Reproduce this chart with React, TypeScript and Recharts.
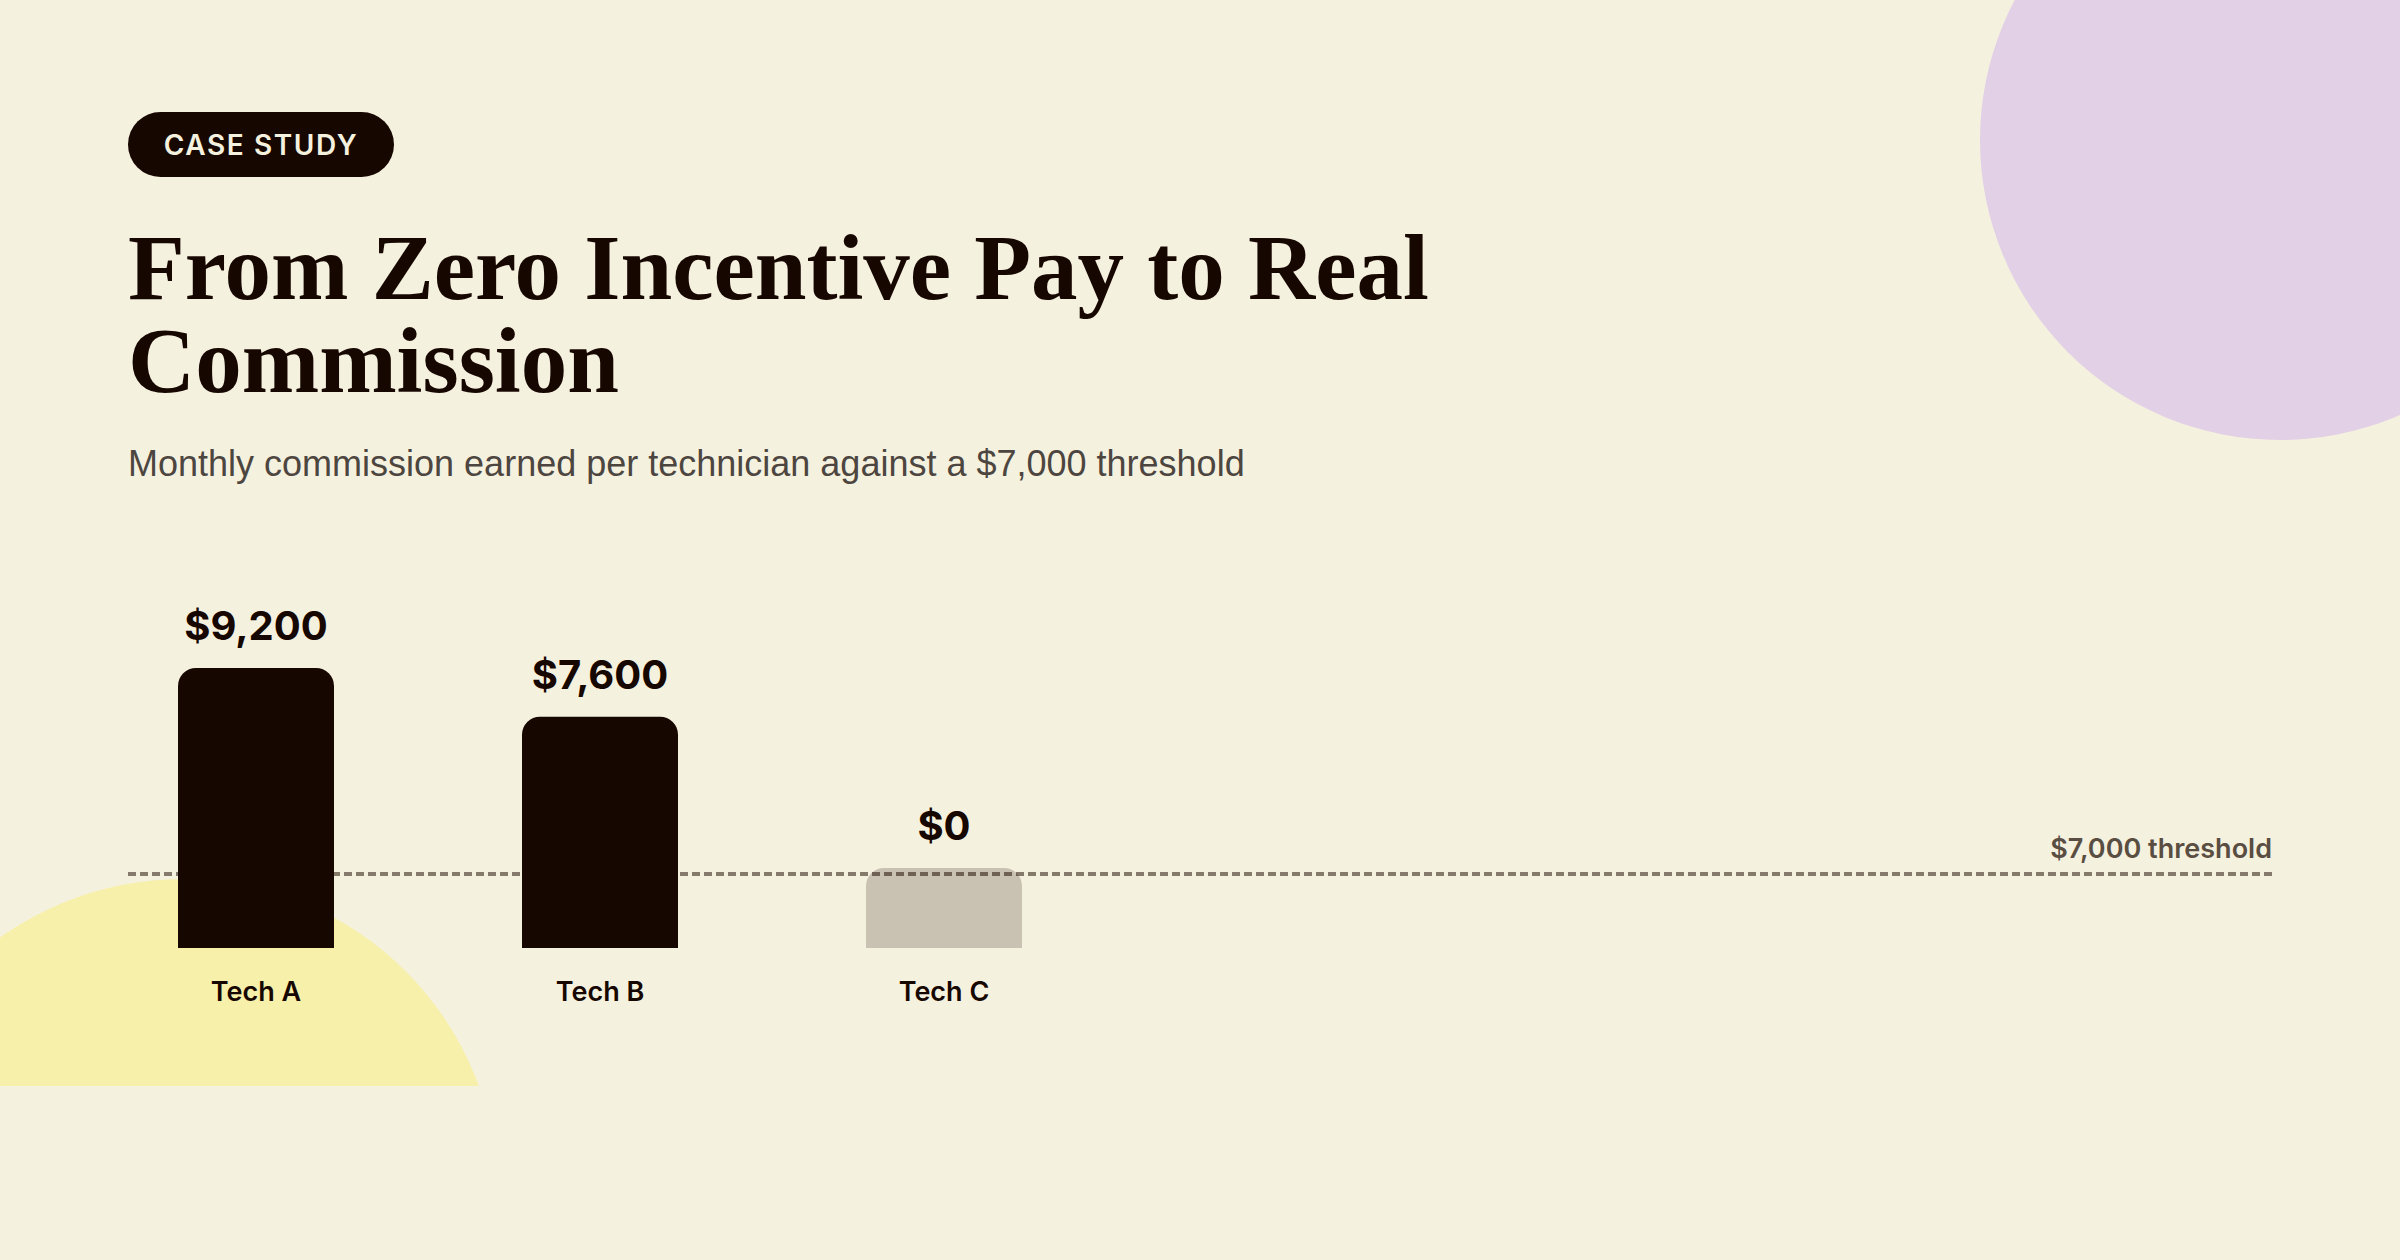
import { BarChart, Bar, XAxis, YAxis, ReferenceLine, LabelList, Cell } from "recharts";

const technicians = ["Tech A", "Tech B", "Tech C"];
const monthlyCommission = [9200, 7600, 0];
const threshold = 7000;

const data = technicians.map((name, i) => ({ name, commission: monthlyCommission[i] }));

const CREAM = "#f5f1df";
const INK = "#170701";
const DASH = "#857a6b";
const SANS = "Inter, 'Noto Sans', sans-serif";

// the threshold marker sits on its own hidden scale
const THRESHOLD_AXIS_MAX = 26500;

function formatMoney(v: number): string {
  return `$${v.toLocaleString("en-US")}`;
}

const TechTick = ({ x, y, payload }: { x: number; y: number; payload: { value: string } }) => (
  <text
    x={x}
    y={y + 53}
    textAnchor="middle"
    fill={INK}
    fontSize={27}
    fontWeight={600}
    fontFamily={SANS}
  >
    {payload.value}
  </text>
);

const ThresholdLabel = ({ viewBox }: { viewBox?: { x: number; y: number; width: number } }) => {
  if (!viewBox) return null;
  return (
    <text
      x={viewBox.x + viewBox.width}
      y={viewBox.y - 16}
      textAnchor="end"
      fill="#5a4d42"
      fontSize={27}
      fontWeight={600}
      fontFamily={SANS}
    >
      {formatMoney(threshold)} threshold
    </text>
  );
};

export default function App() {
  return (
    <div
      style={{
        position: "absolute",
        left: 0,
        top: 0,
        width: 2400,
        height: 1260,
        overflow: "hidden",
        background: CREAM,
      }}
    >
      {/* decorative blobs */}
      <div
        style={{
          position: "absolute",
          left: 1980,
          top: -160,
          width: 600,
          height: 600,
          borderRadius: "50%",
          background: "#e2d0e6",
        }}
      />
      <div style={{ position: "absolute", left: 0, top: 0, width: 2400, height: 1086, overflow: "hidden" }}>
        <div
          style={{
            position: "absolute",
            left: 183 - 315,
            top: 1194 - 315,
            width: 630,
            height: 630,
            borderRadius: "50%",
            background: "#f7f0aa",
          }}
        />
      </div>

      <div
        style={{
          position: "absolute",
          left: 128,
          top: 112,
          width: 266,
          height: 65,
          borderRadius: 33,
          background: INK,
          color: CREAM,
          fontFamily: SANS,
          fontSize: 28,
          fontWeight: 600,
          letterSpacing: 1.6,
          display: "flex",
          alignItems: "center",
          justifyContent: "center",
        }}
      >
        CASE STUDY
      </div>

      <div
        style={{
          position: "absolute",
          left: 128,
          top: 221,
          width: 1500,
          fontFamily: "'Liberation Serif', serif",
          fontSize: 93,
          fontWeight: 700,
          lineHeight: "93px",
          color: INK,
        }}
      >
        From Zero Incentive Pay to Real Commission
      </div>

      <div
        style={{
          position: "absolute",
          left: 128,
          top: 446,
          fontFamily: "'Liberation Sans', Arial, sans-serif",
          fontSize: 36,
          lineHeight: "36px",
          color: "#4d4640",
          whiteSpace: "nowrap",
        }}
      >
        Monthly commission earned per technician against a {formatMoney(threshold)} threshold
      </div>

      <div style={{ position: "absolute", left: 0, top: 560 }}>
        <BarChart
          width={2400}
          height={500}
          data={data}
          margin={{ top: 108, right: 128, bottom: 52, left: 128 }}
        >
          <XAxis
            dataKey="name"
            height={60}
            axisLine={false}
            tickLine={false}
            tickSize={0}
            tickMargin={0}
            interval={0}
            padding={{ left: -44, right: 1156 }}
            tick={TechTick}
          />
          <YAxis hide domain={[0, 9200]} allowDataOverflow />
          <YAxis yAxisId="threshold" hide domain={[0, THRESHOLD_AXIS_MAX]} allowDataOverflow />
          <ReferenceLine
            yAxisId="threshold"
            y={threshold}
            stroke={DASH}
            strokeWidth={4}
            strokeDasharray="8 4"
            zIndex={100}
            label={<ThresholdLabel />}
          />
          <Bar
            dataKey="commission"
            barSize={156}
            radius={[18, 18, 0, 0]}
            minPointSize={80}
            isAnimationActive={false}
          >
            {data.map((d) => (
              <Cell
                key={d.name}
                fill={INK}
                fillOpacity={d.commission > 0 ? 1 : 0.2}
              />
            ))}
            <LabelList
              dataKey="commission"
              position="top"
              offset={28}
              formatter={(v: number) => formatMoney(v)}
              fill={INK}
              fontSize={40}
              fontWeight={700}
              fontFamily={SANS}
            />
          </Bar>
        </BarChart>
      </div>
    </div>
  );
}
